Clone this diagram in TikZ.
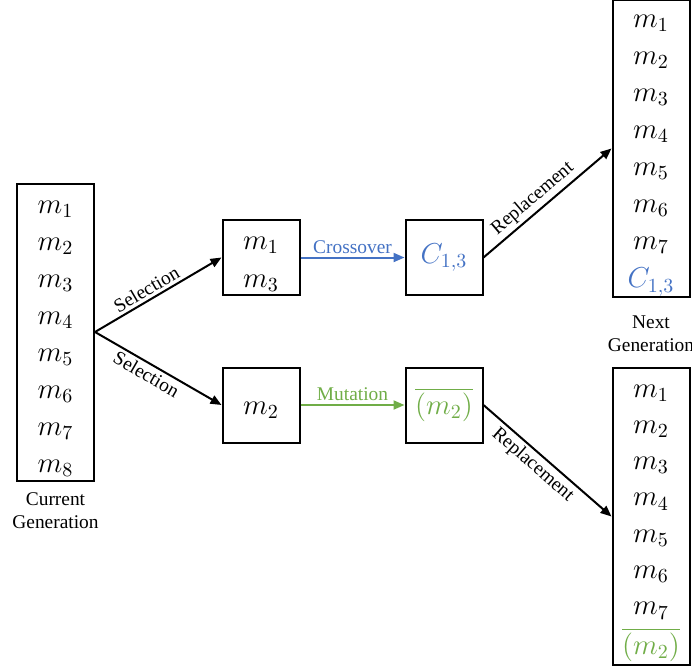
\documentclass[tikz,border=0pt]{standalone}
\usepackage{fontspec}
\setmainfont{Liberation Serif}
\usetikzlibrary{arrows.meta}
\definecolor{xblue}{RGB}{68,114,196}
\definecolor{mgreen}{RGB}{112,173,71}
\tikzset{
	popbox/.style={draw, line width=1pt, minimum width=38.5pt, minimum height=148.5pt, inner sep=0pt},
	opbox/.style={draw, line width=1pt, minimum width=38.5pt, minimum height=37.5pt, inner sep=0pt},
	gene/.style={font=\fontsize{14.5}{16}\selectfont, inner sep=0pt},
	lbl/.style={font=\rmfamily\fontsize{9.7}{11.5}\selectfont, inner sep=1.5pt},
	arr/.style={-{Triangle[length=5.5pt,width=4.5pt]}, line width=1pt}
}
\begin{document}
\begin{tikzpicture}[x=.5pt, y=-.5pt]
	\useasboundingbox (0,0) rectangle (692,670);
	% current generation
	\node[popbox] (cur) at (55.5,332) {};
	\foreach \i in {1,...,8}
		\node[gene] (cur\i) at (55.5,{209+37*(\i-1)}) {$m_{\i}$};
	\node[lbl, align=center, below=4pt] (curlbl) at (cur.south) {Current\\Generation};
	% selected parents
	\node[opbox] (par) at (261,257.5) {};
	\node[gene] (par1) at (261,245) {$m_1$};
	\node[gene] (par3) at (261,283) {$m_3$};
	\node[opbox] (mut) at (261,405) {};
	\node[gene] (mut2) at (261,410) {$m_2$};
	% offspring
	\node[opbox, text=xblue] (child) at (444,257.5) {\fontsize{14.5}{16}\selectfont$C_{1,3}$};
	\node[opbox, text=mgreen] (mutant) at (444,405) {\fontsize{14.5}{16}\selectfont$\overline{(m_2)}$};
	% next generations
	\node[popbox] (nxa) at (651,148.5) {};
	\foreach \i in {1,...,7}
		\node[gene] (nxa\i) at (651,{23+37*(\i-1)}) {$m_{\i}$};
	\node[gene, text=xblue] (nxa8) at (651,282) {$C_{1,3}$};
	\node[lbl, align=center, below=7pt] (nxalbl) at (nxa.south) {Next\\Generation};
	\node[popbox] (nxb) at (651,516.5) {};
	\foreach \i in {1,...,7}
		\node[gene] (nxb\i) at (651,{393+36.3*(\i-1)}) {$m_{\i}$};
	\node[gene, text=mgreen] (nxb8) at (651,645) {$\overline{(m_2)}$};
	% arrows
	\draw[arr] (cur.east) -- node[lbl, sloped, above, pos=.45] {Selection} (par.west);
	\draw[arr] (cur.east) -- node[lbl, sloped, below, pos=.45] {Selection} (mut.west);
	\draw[arr, xblue] (par.east) -- node[lbl, above] {Crossover} (child.west);
	\draw[arr, mgreen] (mut.east) -- node[lbl, above] {Mutation} (mutant.west);
	\draw[arr] (child.east) -- node[lbl, sloped, above, pos=.45] {Replacement} (nxa.west);
	\draw[arr] (mutant.east) -- node[lbl, sloped, below, pos=.45] {Replacement} (nxb.west);
\end{tikzpicture}
\end{document}
